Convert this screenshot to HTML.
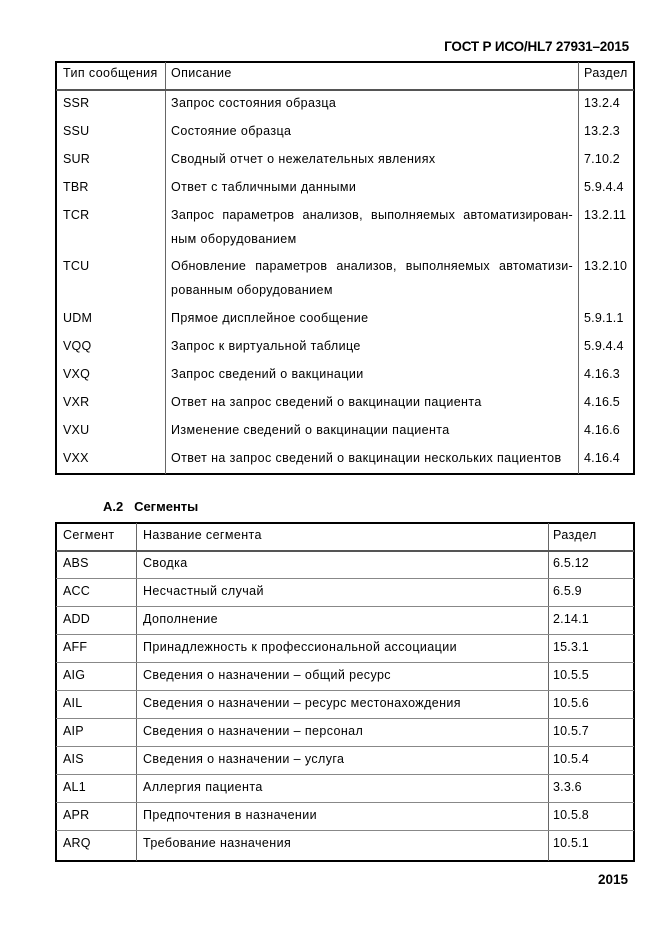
<!DOCTYPE html>
<html><head><meta charset="utf-8">
<style>
html,body{margin:0;padding:0;background:#fff;}
body{width:661px;height:935px;position:relative;overflow:hidden;font-family:"Liberation Sans","Noto Sans CJK SC",sans-serif;color:#000;}
.a{position:absolute;white-space:nowrap;height:16px;line-height:16px;font-size:12.5px;letter-spacing:0.4px;}
.c{position:absolute;white-space:nowrap;height:16px;line-height:16px;font-size:12.5px;letter-spacing:0.2px;color:#000;}
.j{position:absolute;width:402px;height:16px;line-height:16px;font-size:12.5px;letter-spacing:0.3px;text-align:justify;text-align-last:justify;white-space:nowrap;}
.box{position:absolute;border:2px solid #000;box-sizing:border-box;}
.v{position:absolute;width:1px;background:#666;}
.h{position:absolute;height:1px;background:#888;}
.b{position:absolute;font-weight:bold;white-space:nowrap;color:#000;}
</style></head><body>

<div class="b" style="right:32px;top:38px;font-size:13.5px;letter-spacing:-0.2px;line-height:18px;">ГОСТ Р ИСО/HL7 27931–2015</div>

<!-- Table 1 -->
<div class="box" style="left:55px;top:61px;width:580px;height:414px;"></div>
<div class="v" style="left:165px;top:62px;height:412px;"></div>
<div class="v" style="left:578px;top:62px;height:412px;"></div>
<div class="h" style="left:56px;top:89px;width:578px;height:2px;background:#555;"></div>

<div class="a" style="left:63px;top:65px;">Тип сообщения</div>
<div class="a" style="left:171px;top:65px;">Описание</div>
<div class="a" style="left:584px;top:65px;">Раздел</div>

<div class="c" style="left:63px;top:95px;">SSR</div>
<div class="a" style="left:171px;top:95px;">Запрос состояния образца</div>
<div class="c" style="left:584px;top:95px;">13.2.4</div>

<div class="c" style="left:63px;top:123px;">SSU</div>
<div class="a" style="left:171px;top:123px;">Состояние образца</div>
<div class="c" style="left:584px;top:123px;">13.2.3</div>

<div class="c" style="left:63px;top:151px;">SUR</div>
<div class="a" style="left:171px;top:151px;">Сводный отчет о нежелательных явлениях</div>
<div class="c" style="left:584px;top:151px;">7.10.2</div>

<div class="c" style="left:63px;top:179px;">TBR</div>
<div class="a" style="left:171px;top:179px;">Ответ с табличными данными</div>
<div class="c" style="left:584px;top:179px;">5.9.4.4</div>

<div class="c" style="left:63px;top:207px;">TCR</div>
<div class="j" style="left:171px;top:207px;">Запрос параметров анализов, выполняемых автоматизирован-</div>
<div class="a" style="left:171px;top:231px;">ным оборудованием</div>
<div class="c" style="left:584px;top:207px;">13.2.11</div>

<div class="c" style="left:63px;top:258px;">TCU</div>
<div class="j" style="left:171px;top:258px;">Обновление параметров анализов, выполняемых автоматизи-</div>
<div class="a" style="left:171px;top:282px;">рованным оборудованием</div>
<div class="c" style="left:584px;top:258px;">13.2.10</div>

<div class="c" style="left:63px;top:310px;">UDM</div>
<div class="a" style="left:171px;top:310px;">Прямое дисплейное сообщение</div>
<div class="c" style="left:584px;top:310px;">5.9.1.1</div>

<div class="c" style="left:63px;top:338px;">VQQ</div>
<div class="a" style="left:171px;top:338px;">Запрос к виртуальной таблице</div>
<div class="c" style="left:584px;top:338px;">5.9.4.4</div>

<div class="c" style="left:63px;top:366px;">VXQ</div>
<div class="a" style="left:171px;top:366px;">Запрос сведений о вакцинации</div>
<div class="c" style="left:584px;top:366px;">4.16.3</div>

<div class="c" style="left:63px;top:394px;">VXR</div>
<div class="a" style="left:171px;top:394px;">Ответ на запрос сведений о вакцинации пациента</div>
<div class="c" style="left:584px;top:394px;">4.16.5</div>

<div class="c" style="left:63px;top:422px;">VXU</div>
<div class="a" style="left:171px;top:422px;">Изменение сведений о вакцинации пациента</div>
<div class="c" style="left:584px;top:422px;">4.16.6</div>

<div class="c" style="left:63px;top:450px;">VXX</div>
<div class="a" style="left:171px;top:450px;">Ответ на запрос сведений о вакцинации нескольких пациентов</div>
<div class="c" style="left:584px;top:450px;">4.16.4</div>

<div class="b" style="left:103px;top:498px;font-size:13px;line-height:18px;">А.2&nbsp;&nbsp; Сегменты</div>

<!-- Table 2 -->
<div class="box" style="left:55px;top:522px;width:580px;height:340px;"></div>
<div class="v" style="left:136px;top:523px;height:338px;"></div>
<div class="v" style="left:548px;top:523px;height:338px;"></div>
<div class="h" style="left:56px;top:550px;width:578px;height:2px;background:#555;"></div>
<div class="h" style="left:56px;top:578px;width:578px;"></div>
<div class="h" style="left:56px;top:606px;width:578px;"></div>
<div class="h" style="left:56px;top:634px;width:578px;"></div>
<div class="h" style="left:56px;top:662px;width:578px;"></div>
<div class="h" style="left:56px;top:690px;width:578px;"></div>
<div class="h" style="left:56px;top:718px;width:578px;"></div>
<div class="h" style="left:56px;top:746px;width:578px;"></div>
<div class="h" style="left:56px;top:774px;width:578px;"></div>
<div class="h" style="left:56px;top:802px;width:578px;"></div>
<div class="h" style="left:56px;top:830px;width:578px;"></div>

<div class="a" style="left:63px;top:527px;">Сегмент</div>
<div class="a" style="left:143px;top:527px;">Название сегмента</div>
<div class="a" style="left:553px;top:527px;">Раздел</div>

<div class="c" style="left:63px;top:555px;">ABS</div>
<div class="a" style="left:143px;top:555px;">Сводка</div>
<div class="c" style="left:553px;top:555px;">6.5.12</div>

<div class="c" style="left:63px;top:583px;">ACC</div>
<div class="a" style="left:143px;top:583px;">Несчастный случай</div>
<div class="c" style="left:553px;top:583px;">6.5.9</div>

<div class="c" style="left:63px;top:611px;">ADD</div>
<div class="a" style="left:143px;top:611px;">Дополнение</div>
<div class="c" style="left:553px;top:611px;">2.14.1</div>

<div class="c" style="left:63px;top:639px;">AFF</div>
<div class="a" style="left:143px;top:639px;">Принадлежность к профессиональной ассоциации</div>
<div class="c" style="left:553px;top:639px;">15.3.1</div>

<div class="c" style="left:63px;top:667px;">AIG</div>
<div class="a" style="left:143px;top:667px;">Сведения о назначении – общий ресурс</div>
<div class="c" style="left:553px;top:667px;">10.5.5</div>

<div class="c" style="left:63px;top:695px;">AIL</div>
<div class="a" style="left:143px;top:695px;">Сведения о назначении – ресурс местонахождения</div>
<div class="c" style="left:553px;top:695px;">10.5.6</div>

<div class="c" style="left:63px;top:723px;">AIP</div>
<div class="a" style="left:143px;top:723px;">Сведения о назначении – персонал</div>
<div class="c" style="left:553px;top:723px;">10.5.7</div>

<div class="c" style="left:63px;top:751px;">AIS</div>
<div class="a" style="left:143px;top:751px;">Сведения о назначении – услуга</div>
<div class="c" style="left:553px;top:751px;">10.5.4</div>

<div class="c" style="left:63px;top:779px;">AL1</div>
<div class="a" style="left:143px;top:779px;">Аллергия пациента</div>
<div class="c" style="left:553px;top:779px;">3.3.6</div>

<div class="c" style="left:63px;top:807px;">APR</div>
<div class="a" style="left:143px;top:807px;">Предпочтения в назначении</div>
<div class="c" style="left:553px;top:807px;">10.5.8</div>

<div class="c" style="left:63px;top:835px;">ARQ</div>
<div class="a" style="left:143px;top:835px;">Требование назначения</div>
<div class="c" style="left:553px;top:835px;">10.5.1</div>

<div class="b" style="right:33px;top:871px;font-size:13.5px;line-height:18px;">2015</div>

</body></html>
